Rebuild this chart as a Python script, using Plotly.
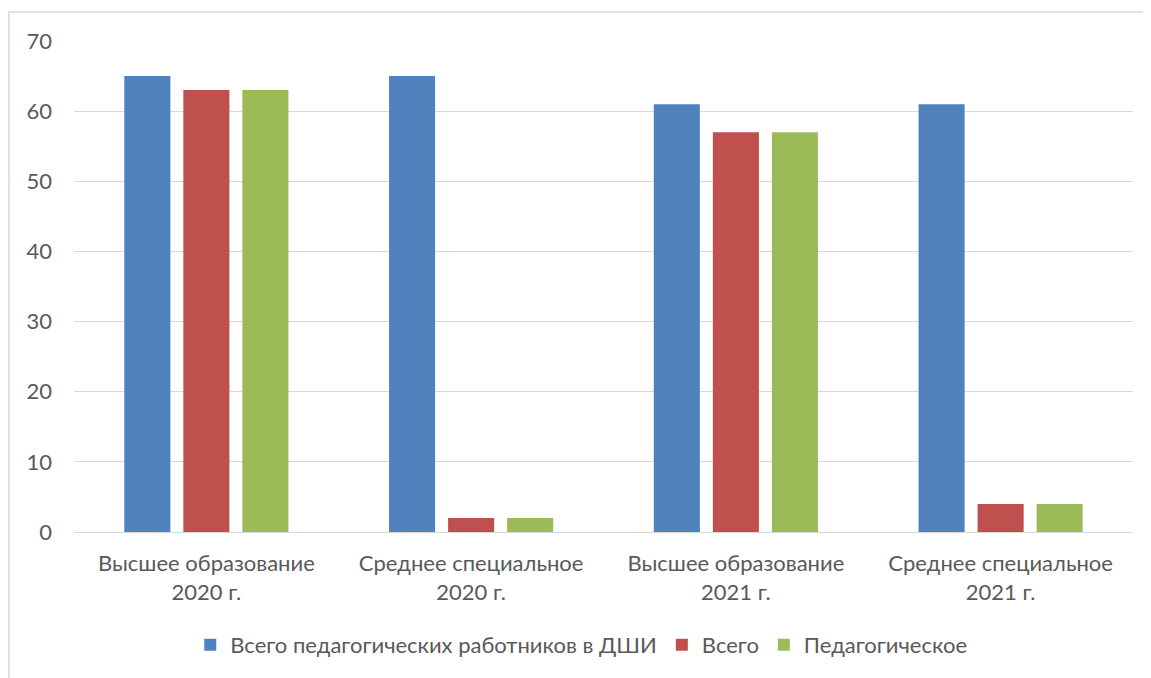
import plotly.graph_objects as go

categories = ["Высшее образование<br>2020 г.", "Среднее специальное<br>2020 г.",
              "Высшее образование<br>2021 г.", "Среднее специальное<br>2021 г."]
series_names = ["Всего педагогических работников в ДШИ", "Всего", "Педагогическое"]
vals_total = [65, 65, 61, 61]
vals_all = [63, 2, 57, 4]
vals_ped = [63, 2, 57, 4]
colors = ["#4F81BD", "#C0504D", "#9BBB59"]

FONT = "Lato"
fig = go.Figure()
for name, vals, c in zip(series_names, [vals_total, vals_all, vals_ped], colors):
    fig.add_trace(go.Bar(x=categories, y=vals, name=name, marker_color=c,
                         marker_line_width=0))

fig.update_layout(
    width=1143, height=670,
    margin=dict(l=66, r=18, t=33, b=146),
    paper_bgcolor="white", plot_bgcolor="white",
    barmode="group", bargap=0.331, bargroupgap=0.22,
    font=dict(family=FONT, size=22, color="#595959"),
    showlegend=True,
    legend=dict(orientation="h", x=0.479, xanchor="center", y=-0.23, yanchor="middle",
                font=dict(size=22, color="#595959"), itemwidth=30,
                traceorder="normal"),
    xaxis=dict(showgrid=False, showline=False, ticks="", tickfont=dict(size=22),
               ticklabelstandoff=16),
    yaxis=dict(range=[0, 70], dtick=10, showgrid=True, gridcolor="#D9D9D9", gridwidth=1,
               zeroline=True, zerolinecolor="#D9D9D9", zerolinewidth=1,
               showline=False, ticks="", ticklabelstandoff=21, tickfont=dict(size=22)),
    shapes=[dict(type="rect", xref="paper", yref="paper", x0=-0.0614, x1=1.03,
                 y0=-0.4, y1=1.059, line=dict(color="#D9D9D9", width=1.5),
                 fillcolor="rgba(0,0,0,0)", layer="below")],
)

fig.write_html("out.html")
